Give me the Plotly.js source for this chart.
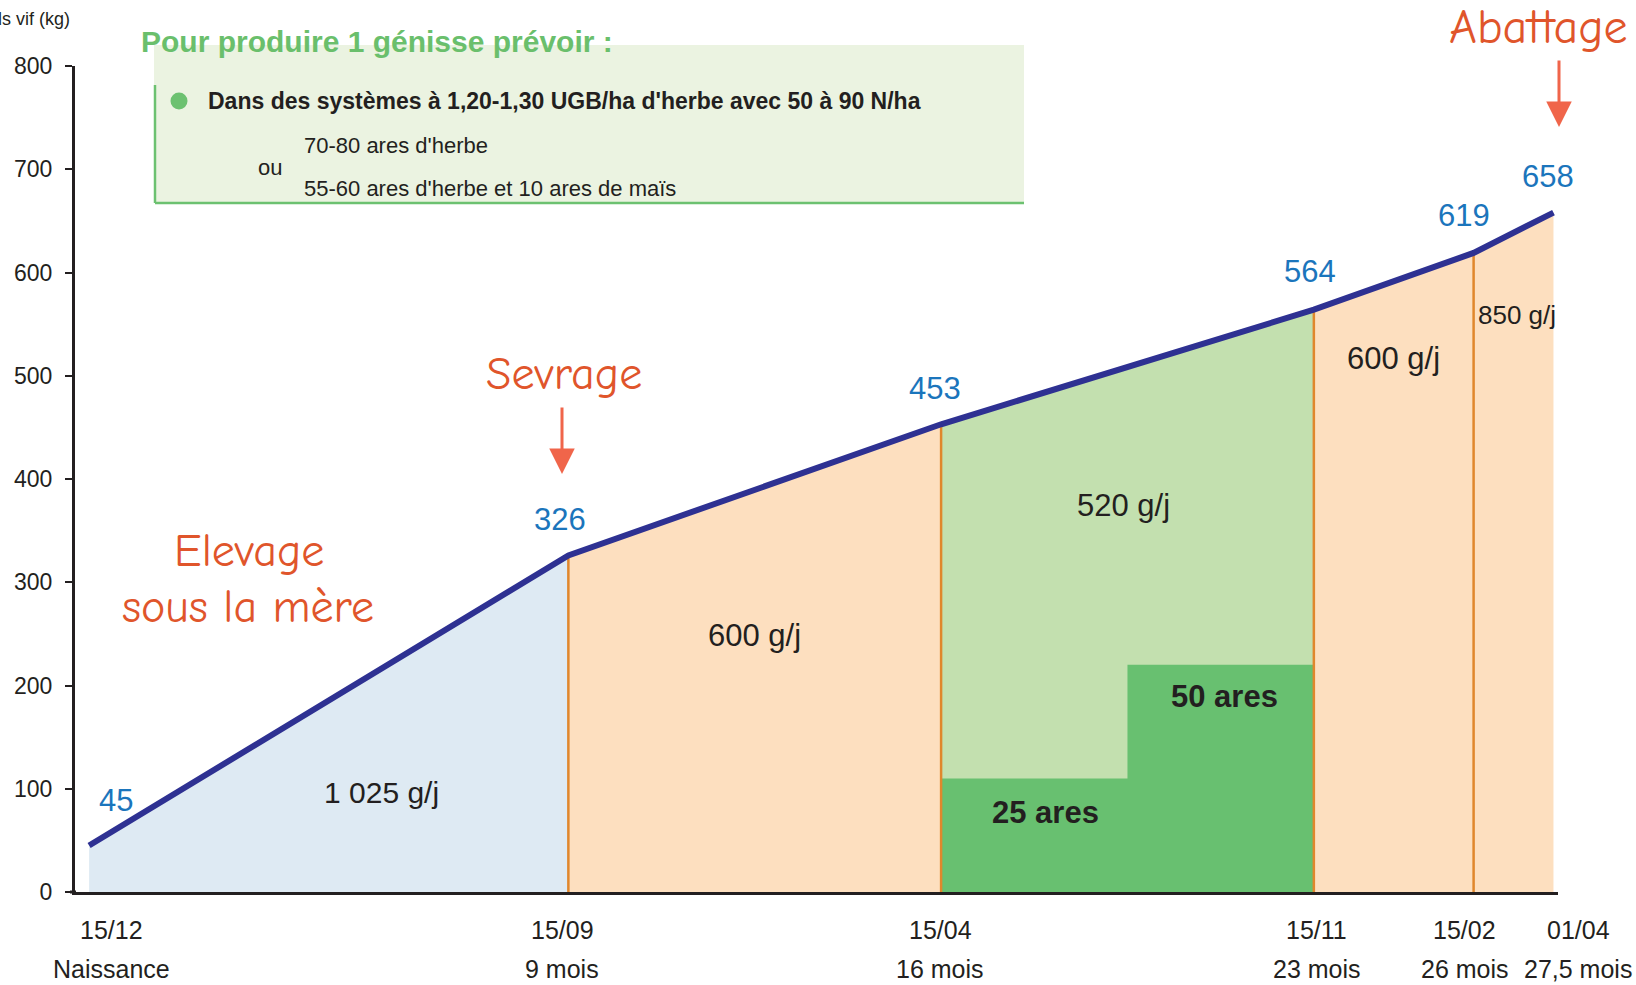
<!DOCTYPE html>
<html>
<head>
<meta charset="utf-8">
<script src="https://cdn.plot.ly/plotly-3.0.1.min.js"></script>
<style>html,body{margin:0;padding:0;background:#fff;}</style>
</head>
<body>
<div id="chart" style="width:1636px;height:985px;"></div>
<script>
// ---- data ----
const months = [0, 9, 16, 23, 26, 27.5];
const dateLabels = ['15/12', '15/09', '15/04', '15/11', '15/02', '01/04'];
const ageLabels = ['Naissance', '9 mois', '16 mois', '23 mois', '26 mois', '27,5 mois'];
const weights = [45, 326, 453, 564, 619, 658];
const gainLabels = ['1 025 g/j', '600 g/j', '520 g/j', '600 g/j', '850 g/j'];
const stepMonths = [16, 19.5, 23];
const stepHeights = [110, 220];
const stepLabels = ['25 ares', '50 ares'];
const yTicks = [0, 100, 200, 300, 400, 500, 600, 700, 800];

// ---- styles ----
const FONT = 'Liberation Sans, Arial, sans-serif';
const HAND = 'Comic Neue, Comic Sans MS, Noto Sans, sans-serif';
const TXT = '#231f20';
const segColors = ['#deeaf3', '#fddfbf', '#c3e0af', '#fddfbf', '#fddfbf'];
const gainPos = [[0.61, 96], [0.5, 248], [0.49, 374], [0.5, 517], [0.54, 559]];
const gainSize = [30, 31, 31, 31, 26];
const stepLabelPos = [[0.56, 77], [0.52, 189]];
const valueShiftX = [27, -8, -6, -4, -10, -5];
const valueShiftY = [45, 36, 36, 38, 37, 36];
const tickShiftX = [22, -6, -1, 3, -9, 25];

const L = 75, R = 78, T = 66, B = 93, W = 1636, H = 985;
const PW = W - L - R, PH = H - T - B;
const px = v => (v - L) / PW;
const py = v => (H - B - v) / PH;

const traces = [];
for (let i = 0; i < months.length - 1; i++) {
  traces.push({x: [months[i], months[i + 1]], y: [weights[i], weights[i + 1]], mode: 'lines',
    line: {width: 0}, fill: 'tozeroy', fillcolor: segColors[i], hoverinfo: 'skip', showlegend: false});
}
// stepped "ares" area
const sx = [], sy = [];
for (let i = 0; i < stepHeights.length; i++) {
  sx.push(stepMonths[i], stepMonths[i + 1]);
  sy.push(stepHeights[i], stepHeights[i]);
}
traces.push({x: sx, y: sy, mode: 'lines', line: {width: 0}, fill: 'tozeroy', fillcolor: '#68c070',
  hoverinfo: 'skip', showlegend: false});
// orange separators
for (let i = 1; i < months.length - 1; i++) {
  traces.push({x: [months[i], months[i]], y: [0, weights[i]], mode: 'lines',
    line: {color: '#e0872c', width: 2.5}, hoverinfo: 'skip', showlegend: false});
}
// main weight line
traces.push({x: months, y: weights, mode: 'lines', line: {color: '#2e3192', width: 6},
  hoverinfo: 'skip', showlegend: false});

const ann = [];
const P = (o) => Object.assign({xref: 'paper', yref: 'paper', xanchor: 'center', yanchor: 'middle', showarrow: false}, o);
// value labels
weights.forEach((w, i) => {
  ann.push({x: months[i], y: w, xref: 'x', yref: 'y', text: String(w), showarrow: false,
    xanchor: 'center', yanchor: 'middle', xshift: valueShiftX[i], yshift: valueShiftY[i],
    font: {family: FONT, size: 31, color: '#1b75bc'}});
});
// gain labels
gainLabels.forEach((g, i) => {
  const x = months[i] + gainPos[i][0] * (months[i + 1] - months[i]);
  ann.push({x: x, y: gainPos[i][1], xref: 'x', yref: 'y', text: g, showarrow: false,
    xanchor: 'center', yanchor: 'middle', font: {family: FONT, size: gainSize[i], color: TXT}});
});
// step labels
stepLabels.forEach((s, i) => {
  const x = stepMonths[i] + stepLabelPos[i][0] * (stepMonths[i + 1] - stepMonths[i]);
  ann.push({x: x, y: stepLabelPos[i][1], xref: 'x', yref: 'y', text: '<b>' + s + '</b>', showarrow: false,
    xanchor: 'center', yanchor: 'middle', font: {family: FONT, size: 31, color: TXT}});
});
// x tick labels
months.forEach((m, i) => {
  ann.push({x: m, y: 0, xref: 'x', yref: 'y', text: dateLabels[i], showarrow: false, xshift: tickShiftX[i],
    xanchor: 'center', yanchor: 'middle', yshift: -38, font: {family: FONT, size: 25, color: TXT}});
  ann.push({x: m, y: 0, xref: 'x', yref: 'y', text: ageLabels[i], showarrow: false, xshift: tickShiftX[i],
    xanchor: 'center', yanchor: 'middle', yshift: -77, font: {family: FONT, size: 25, color: TXT}});
});
// y axis title (cut at the left edge)
ann.push(P({x: px(72), y: py(19), xanchor: 'right', text: 'Poids vif (kg)',
  font: {family: FONT, size: 18, color: TXT}}));
// info box texts
ann.push(P({x: px(139), y: py(42), xanchor: 'left', text: '<b>Pour produire 1 génisse prévoir :</b>',
  font: {family: FONT, size: 30, color: '#6abf6c'}}));
ann.push(P({x: px(206), y: py(101), xanchor: 'left',
  text: "<b>Dans des systèmes à 1,20-1,30 UGB/ha d'herbe avec 50 à 90 N/ha</b>",
  font: {family: FONT, size: 23, color: TXT}}));
ann.push(P({x: px(302), y: py(145), xanchor: 'left', text: "70-80 ares d'herbe",
  font: {family: FONT, size: 22, color: TXT}}));
ann.push(P({x: px(256), y: py(167), xanchor: 'left', text: 'ou',
  font: {family: FONT, size: 22, color: TXT}}));
ann.push(P({x: px(302), y: py(188), xanchor: 'left', text: "55-60 ares d'herbe et 10 ares de maïs",
  font: {family: FONT, size: 22, color: TXT}}));
// handwritten labels
const handColor = '#e0552b';
ann.push(P({x: px(564), y: py(374), text: 'Sevrage', font: {family: HAND, size: 46, color: handColor}}));
ann.push(P({x: px(249), y: py(551), text: 'Elevage', font: {family: HAND, size: 46, color: handColor}}));
ann.push(P({x: px(248), y: py(607), text: 'sous la mère', font: {family: HAND, size: 46, color: handColor}}));
ann.push(P({x: px(1538), y: py(27), text: 'Abattage', font: {family: HAND, size: 48, color: handColor}}));
// arrows
ann.push(P({x: px(562), y: py(474), text: '', showarrow: true,
  ax: 0, ay: -68, arrowhead: 2, arrowsize: 1.7, arrowwidth: 3, arrowcolor: '#f0654a'}));
ann.push(P({x: px(1559), y: py(127), text: '', showarrow: true,
  ax: 0, ay: -68, arrowhead: 2, arrowsize: 1.7, arrowwidth: 3, arrowcolor: '#f0654a'}));

const shapes = [
  {type: 'rect', xref: 'paper', yref: 'paper', x0: px(154), x1: px(1024), y0: py(203), y1: py(45),
    fillcolor: '#ebf3e1', line: {width: 0}, layer: 'below'},
  {type: 'line', xref: 'paper', yref: 'paper', x0: px(155), x1: px(155), y0: py(85), y1: py(203),
    line: {color: '#6cc170', width: 2.5}},
  {type: 'line', xref: 'paper', yref: 'paper', x0: px(155), x1: px(1024), y0: py(203), y1: py(203),
    line: {color: '#6cc170', width: 2.5}},
  {type: 'circle', xref: 'paper', yref: 'paper', x0: px(170.5), x1: px(187.5), y0: py(109.5), y1: py(92.5),
    fillcolor: '#6cc170', line: {width: 0}},
  {type: 'line', xref: 'paper', yref: 'paper', x0: px(70), x1: px(76), y0: 0, y1: 0,
    line: {color: TXT, width: 3}}
];

const layout = {
  width: W, height: H,
  margin: {l: L, r: R, t: T, b: B, pad: 0},
  paper_bgcolor: '#ffffff', plot_bgcolor: '#ffffff',
  showlegend: false,
  xaxis: {range: [-0.265, 27.585], showgrid: false, zeroline: false,
    showline: true, linecolor: TXT, linewidth: 3, ticks: '', showticklabels: false, fixedrange: true},
  yaxis: {range: [0, 800], showgrid: false, zeroline: false, showline: true, linecolor: TXT,
    linewidth: 3, ticks: 'outside', ticklen: 7, tickwidth: 2, tickcolor: TXT,
    tickvals: yTicks, ticktext: yTicks.map(String), ticklabelstandoff: 8,
    tickfont: {family: FONT, size: 23, color: TXT}, fixedrange: true},
  annotations: ann,
  shapes: shapes
};

Plotly.newPlot('chart', traces, layout, {displayModeBar: false, staticPlot: true});
</script>
</body>
</html>
